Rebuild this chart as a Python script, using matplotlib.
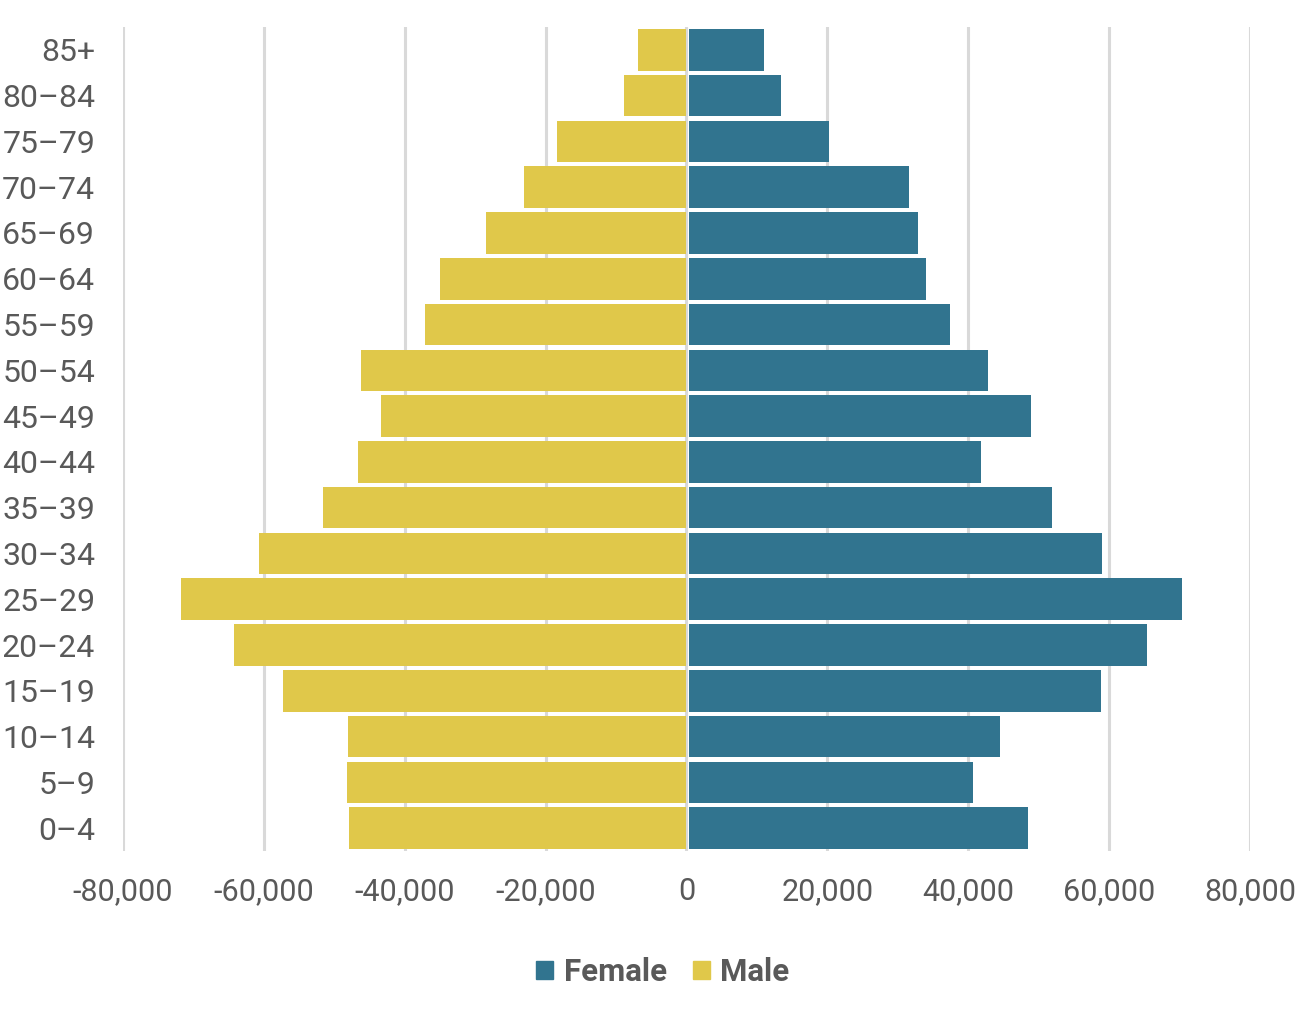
import matplotlib
matplotlib.use("Agg")
import matplotlib.pyplot as plt
from matplotlib.patches import Patch

plt.rcParams['font.family'] = ['Roboto', 'DejaVu Sans']

# Age groups from youngest to oldest
age_groups = ['0–4', '5–9', '10–14', '15–19', '20–24', '25–29', '30–34', '35–39',
              '40–44', '45–49', '50–54', '55–59', '60–64', '65–69', '70–74',
              '75–79', '80–84', '85+']
male = [47900, 48200, 48100, 57300, 64300, 71700, 60700, 51600,
        46700, 43400, 46200, 37100, 35000, 28500, 23100, 18400, 8900, 6900]
female = [48200, 40400, 44200, 58500, 65100, 70000, 58700, 51600,
          41500, 48600, 42500, 37100, 33700, 32500, 31300, 19900, 13100, 10700]
x_ticks = [-80000, -60000, -40000, -20000, 0, 20000, 40000, 60000, 80000]

c_female = '#31748F'
c_male = '#E0C84A'
txt = '#595959'

fig = plt.figure(figsize=(13.04, 10.22), dpi=100)
ax = fig.add_axes([0.0943, 0.1673, 0.8643, 0.8063])

pos = list(range(len(age_groups)))
# small gap at zero so the centre grid line shows between the halves
ax.barh(pos, [-m for m in male], height=0.91, color=c_male, zorder=2)
ax.barh(pos, female, height=0.91, left=300, color=c_female, zorder=2)

ax.set_xlim(-80000, 80000)
ax.set_ylim(-0.5, 17.5)
ax.set_xticks(x_ticks)
ax.set_xticklabels(['{:,}'.format(v) for v in x_ticks])
ax.set_yticks(pos)
ax.set_yticklabels(age_groups)
ax.tick_params(axis='both', length=0, colors=txt)
ax.tick_params(axis='y', pad=20, labelsize=23)
ax.tick_params(axis='x', pad=19, labelsize=22)
for s in ax.spines.values():
    s.set_visible(False)
ax.grid(axis='x', color='#D9D9D9', linewidth=2.2, zorder=0)
ax.set_axisbelow(True)

handles = [Patch(color=c_female, label='Female'), Patch(color=c_male, label='Male')]
leg = fig.legend(handles=handles, loc='center', bbox_to_anchor=(0.5085, 0.049), ncol=2,
                 frameon=False, handlelength=0.52, handleheight=0.52, handletextpad=0.35,
                 columnspacing=0.85, prop={'size': 22.5, 'weight': 'bold'})
for t in leg.get_texts():
    t.set_color(txt)

fig.savefig('out.png', dpi=100)
